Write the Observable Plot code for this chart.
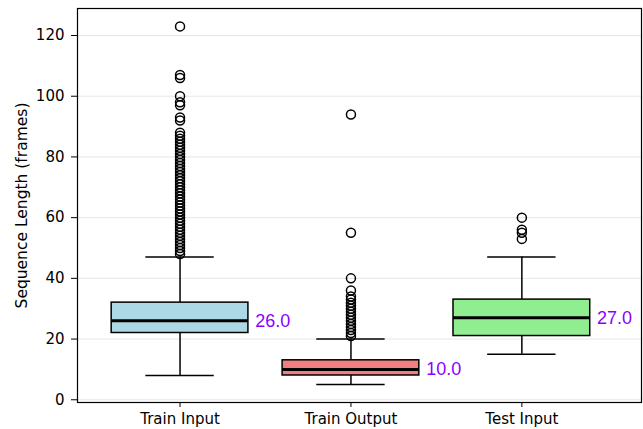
<!DOCTYPE html>
<html>
<head>
<meta charset="utf-8">
<script src="https://cdn.jsdelivr.net/npm/d3@7"></script>
<script src="https://cdn.jsdelivr.net/npm/@observablehq/plot@0.6"></script>
<style>
  html, body { margin: 0; padding: 0; background: white; }
</style>
</head>
<body>
<div id="chart"></div>
<script>
const categories = ["Train Input", "Train Output", "Test Input"];
const positions = [1, 2, 3];
const q1 = [22, 8, 21];
const medians = [26, 10, 27];
const q3 = [32, 13, 33];
const whiskerLow = [8, 5, 15];
const whiskerHigh = [47, 20, 47];
const boxColors = ["lightblue", "lightcoral", "lightgreen"];
const medianLabels = ["26.0", "10.0", "27.0"];
const fliersTrainInput = [48, 49, 50, 51, 52, 53, 54, 55, 56, 57, 58, 59, 60, 61, 62, 63, 64, 65, 66, 67, 68, 69, 70, 71, 72, 73, 74, 75, 76, 77, 78, 79, 80, 81, 82, 83, 84, 85, 86, 87, 88, 92, 93, 97, 98, 100, 106, 107, 123];
const fliersTrainOutput = [21, 22, 23, 24, 25, 26, 27, 28, 29, 30, 31, 32, 33, 34, 36, 40, 55, 94];
const fliersTestInput = [53, 55, 56, 60];
const yTicks = [0, 20, 40, 60, 80, 100, 120];

const boxes = categories.map((c, i) => ({
  cat: c, pos: positions[i], q1: q1[i], med: medians[i], q3: q3[i],
  lo: whiskerLow[i], hi: whiskerHigh[i], color: boxColors[i], label: medianLabels[i]
}));
const fliers = [
  ...fliersTrainInput.map(v => ({pos: positions[0], v})),
  ...fliersTrainOutput.map(v => ({pos: positions[1], v})),
  ...fliersTestInput.map(v => ({pos: positions[2], v}))
];

const BW = 0.4, CW = 0.2;

const chart = Plot.plot({
  width: 643,
  height: 429,
  marginLeft: 77,
  marginRight: 2,
  marginTop: 8,
  marginBottom: 27,
  x: {type: "linear", domain: [0.4, 3.7]},
  y: {domain: [-0.9, 128.9]},
  style: {fontFamily: "DejaVu Sans", fontSize: "15px", color: "black", background: "white"},
  marks: [
    Plot.ruleY(yTicks, {stroke: "#e6e6e6", strokeWidth: 1}),
    Plot.ruleX(boxes, {x: "pos", y1: "q3", y2: "hi", stroke: "black", strokeWidth: 1.5}),
    Plot.ruleX(boxes, {x: "pos", y1: "lo", y2: "q1", stroke: "black", strokeWidth: 1.5}),
    Plot.ruleY(boxes, {y: "hi", x1: d => d.pos - CW, x2: d => d.pos + CW, stroke: "black", strokeWidth: 1.5}),
    Plot.ruleY(boxes, {y: "lo", x1: d => d.pos - CW, x2: d => d.pos + CW, stroke: "black", strokeWidth: 1.5}),
    Plot.rect(boxes, {x1: d => d.pos - BW, x2: d => d.pos + BW, y1: "q1", y2: "q3", fill: "color", stroke: "black", strokeWidth: 1.5}),
    Plot.ruleY(boxes, {y: "med", x1: d => d.pos - BW, x2: d => d.pos + BW, stroke: "black", strokeWidth: 3}),
    Plot.dot(fliers, {x: "pos", y: "v", r: 4.5, stroke: "black", strokeWidth: 1.5, fill: "none"}),
    Plot.text(boxes, {x: d => d.pos + 0.44, y: "med", text: "label", textAnchor: "start", fill: "#8c00ff", fontSize: 18, fontFamily: "Liberation Sans, Arial, sans-serif"}),
    Plot.axisY({ticks: yTicks, tickSize: 6, tickPadding: 7, fontSize: 15, label: null}),
    Plot.axisY({ticks: [], tickSize: 0, fontSize: 15.5, label: "Sequence Length (frames)", labelAnchor: "center", labelArrow: "none", labelOffset: 62}),
    Plot.axisX({ticks: positions, tickFormat: p => categories[p - 1], tickSize: 5, tickPadding: 6, fontSize: 15, label: null}),
    Plot.frame({stroke: "black", strokeWidth: 1.2})
  ]
});
document.getElementById("chart").append(chart);
</script>
</body>
</html>
